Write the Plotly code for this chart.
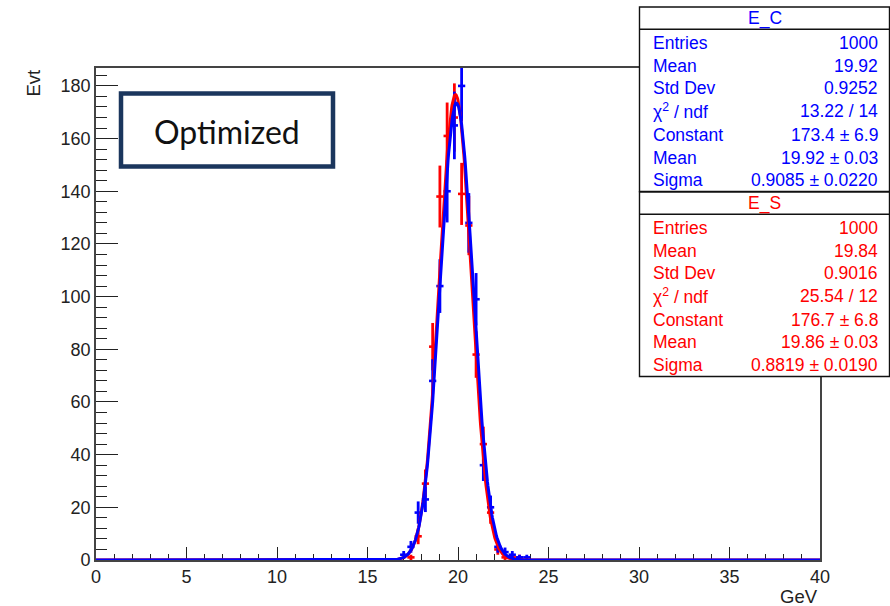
import numpy as np
import plotly.graph_objects as go

# ---------------- data ----------------
ec_centers = [17.0, 17.4, 17.8, 18.2, 18.6, 19.0, 19.4, 19.8, 20.2, 20.6, 21.0,
              21.4, 21.8, 22.2, 22.6, 23.0, 23.4, 23.8]
ec_counts = [2, 5, 18, 23, 68, 104, 140, 165, 180, 128, 99, 36, 20, 5, 3, 2, 1, 1]

es_centers = [17.4, 17.8, 18.2, 18.6, 19.0, 19.4, 19.8, 20.2, 20.6, 21.0, 21.4,
              21.8, 22.2, 22.6, 23.0, 23.4]
es_counts = [1, 9, 29, 81, 138, 161, 168, 139, 127, 78, 44, 18, 4, 1, 1, 1]

bin_width = 0.4

# fit parameters (from stat boxes)
ec_fit = dict(constant=173.4, mean=19.92, sigma=0.9085)
es_fit = dict(constant=176.7, mean=19.86, sigma=0.8819)

ec_stats = [("Entries", "1000"), ("Mean", "19.92"), ("Std Dev", "0.9252"),
            ("χ<sup>2</sup> / ndf", "13.22 / 14"), ("Constant", "173.4 ± 6.9"),
            ("Mean", "19.92 ± 0.03"), ("Sigma", "0.9085 ± 0.0220")]
es_stats = [("Entries", "1000"), ("Mean", "19.84"), ("Std Dev", "0.9016"),
            ("χ<sup>2</sup> / ndf", "25.54 / 12"), ("Constant", "176.7 ± 6.8"),
            ("Mean", "19.86 ± 0.03"), ("Sigma", "0.8819 ± 0.0190")]

x_ticks = [0, 5, 10, 15, 20, 25, 30, 35, 40]
y_ticks = [0, 20, 40, 60, 80, 100, 120, 140, 160, 180]

# ---------------- layout geometry ----------------
W, H = 890, 606
L, R, T, B = 96, 70, 68, 46
PW, PH = W - L - R, H - T - B

def px(x):
    return (x - L) / PW

def py(y):
    return (H - B - y) / PH

BLUE = "#0000ff"
RED = "#ff0000"
FONT = "Liberation Sans, Arial, sans-serif"

fig = go.Figure()

def hist_trace(xc, yc, color):
    yc = np.array(yc, dtype=float)
    return go.Scatter(
        x=xc, y=yc, mode="markers",
        marker=dict(size=1, color=color),
        error_y=dict(type="data", array=np.sqrt(yc), color=color, thickness=2.8, width=0),
        error_x=dict(type="constant", value=bin_width / 2, color=color, thickness=2.6, width=0),
        showlegend=False, hoverinfo="skip",
    )

def fit_trace(p, color):
    xs = np.linspace(0, 40, 1601)
    ys = p["constant"] * np.exp(-0.5 * ((xs - p["mean"]) / p["sigma"]) ** 2)
    return go.Scatter(x=xs, y=ys, mode="lines", line=dict(color=color, width=3),
                      cliponaxis=False, showlegend=False, hoverinfo="skip")

fig.add_trace(hist_trace(es_centers, es_counts, RED))
fig.add_trace(hist_trace(ec_centers, ec_counts, BLUE))
fig.add_trace(fit_trace(es_fit, RED))
fig.add_trace(fit_trace(ec_fit, BLUE))

shapes = []
annotations = []

# Stat boxes
def stat_box(top, name, rows, color):
    left, right = 639.5, 889.5
    header_line = top + 22.3
    bottom = top + 184.5
    shapes.append(dict(type="rect", xref="paper", yref="paper",
                       x0=px(left), x1=px(right), y0=py(bottom), y1=py(top),
                       line=dict(color="#111", width=1.4), fillcolor="white", layer="above"))
    shapes.append(dict(type="line", xref="paper", yref="paper",
                       x0=px(left), x1=px(right), y0=py(header_line), y1=py(header_line),
                       line=dict(color="#111", width=1.4), layer="above"))
    annotations.append(dict(xref="paper", yref="paper", x=px((left + right) / 2), y=py(top + 11),
                            text=name, showarrow=False, xanchor="center", yanchor="middle",
                            font=dict(family=FONT, size=17.5, color=color)))
    row_offsets = [36, 58.8, 81.2, 104.2, 127.5, 150.5, 172.5]
    for (lab, val), off in zip(rows, row_offsets):
        annotations.append(dict(xref="paper", yref="paper", x=px(651), y=py(top + off),
                                text=lab, showarrow=False, xanchor="left", yanchor="middle",
                                font=dict(family=FONT, size=17.5, color=color)))
        annotations.append(dict(xref="paper", yref="paper", x=px(880), y=py(top + off),
                                text=val, showarrow=False, xanchor="right", yanchor="middle",
                                font=dict(family=FONT, size=17.5, color=color)))

stat_box(7, "E_C", ec_stats, BLUE)
stat_box(192, "E_S", es_stats, RED)

# "Optimized" box
shapes.append(dict(type="rect", xref="paper", yref="paper",
                   x0=px(121), x1=px(333), y0=py(166.5), y1=py(93.5),
                   line=dict(color="#1b365d", width=4.5), fillcolor="white", layer="above"))
annotations.append(dict(xref="paper", yref="paper", x=px(227), y=py(131),
                        text="Optimized", showarrow=False, xanchor="center", yanchor="middle",
                        font=dict(family="Lato, Open Sans, sans-serif", size=32, color="#111")))

# axis titles
annotations.append(dict(xref="paper", yref="paper", x=px(820), y=py(596),
                        text="GeV", showarrow=False, xanchor="right", yanchor="middle",
                        font=dict(family=FONT, size=18.5, color="#222")))
annotations.append(dict(xref="paper", yref="paper", x=px(33), y=py(68),
                        text="Evt", showarrow=False, xanchor="center", yanchor="top", textangle=-90,
                        font=dict(family=FONT, size=18.5, color="#222")))

fig.update_layout(
    width=W, height=H,
    margin=dict(l=L, r=R, t=T, b=B, pad=0),
    paper_bgcolor="white", plot_bgcolor="white",
    shapes=shapes, annotations=annotations,
    xaxis=dict(range=[0, 40], tickvals=x_ticks, ticktext=[str(v) for v in x_ticks],
               showgrid=False, zeroline=False, showline=True, mirror=True,
               linecolor="#444", linewidth=1.6, layer="below traces",
               ticks="inside", ticklen=13, tickwidth=1.3, tickcolor="#222",
               minor=dict(ticks="inside", ticklen=6, dtick=1, tick0=0, tickwidth=1.3,
                          tickcolor="#222", showgrid=False),
               tickfont=dict(family=FONT, size=18, color="#222")),
    yaxis=dict(range=[0, 186.8], tickvals=y_ticks, ticktext=[str(v) for v in y_ticks],
               showgrid=False, zeroline=False, showline=True, mirror=True,
               linecolor="#444", linewidth=1.6, layer="below traces",
               ticks="inside", ticklen=22, tickwidth=1.3, tickcolor="#222",
               minor=dict(ticks="inside", ticklen=11, dtick=4, tick0=0, tickwidth=1.3,
                          tickcolor="#222", showgrid=False),
               tickfont=dict(family=FONT, size=18, color="#222")),
)

fig.write_html("out.html")
